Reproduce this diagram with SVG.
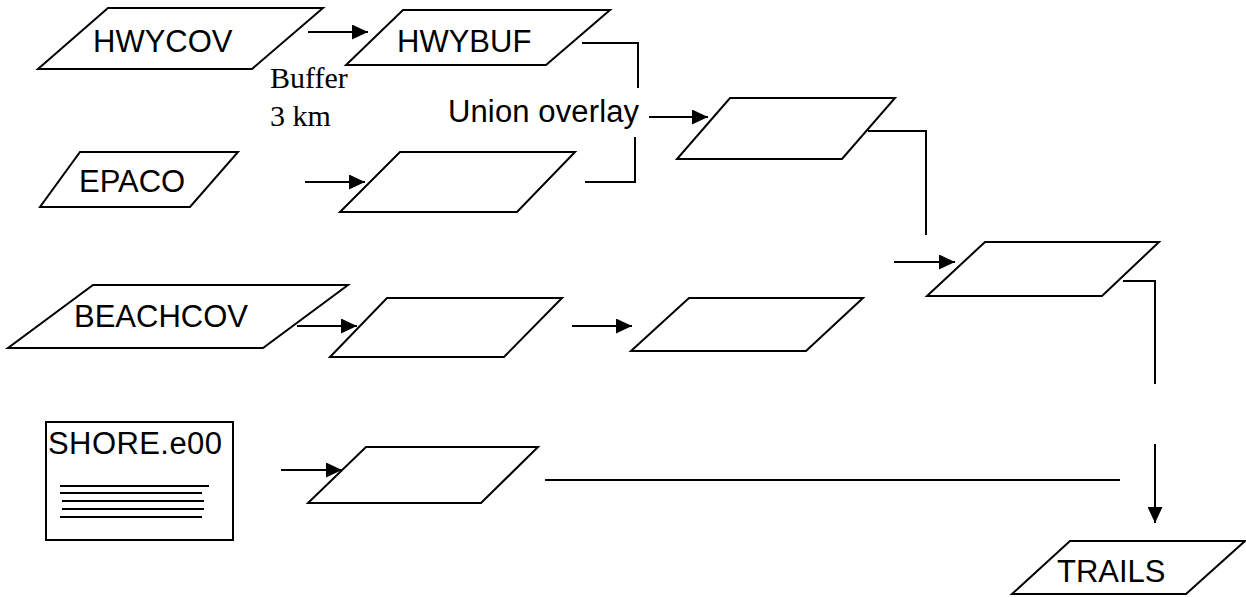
<svg xmlns="http://www.w3.org/2000/svg" width="1246" height="597" viewBox="0 0 1246 597">
<style>
.s{fill:#fff;stroke:#000;stroke-width:2}
.l{fill:none;stroke:#000;stroke-width:2}
.t{font-family:"Liberation Sans",Arial,sans-serif;font-size:31px;fill:#000}
.sf{font-family:"Liberation Serif","Times New Roman",serif;font-size:30px;fill:#000}
</style>
<defs>
<marker id="ah" markerWidth="17" markerHeight="15" refX="16" refY="7.5" orient="auto" markerUnits="userSpaceOnUse">
<path d="M0,0 L16,7.5 L0,15 Z" fill="#000"/>
</marker>
</defs>
<rect width="1246" height="597" fill="#fff"/>
<g id="hwycov"><polygon class="s" points="108,8 323,8 252,69 38,69"/><text class="t" x="93" y="52">HWYCOV</text></g>
<g id="hwybuf"><polygon class="s" points="403,10 610,10 546,65 346,65"/><text class="t" x="397" y="52">HWYBUF</text></g>
<g id="epaco"><polygon class="s" points="80,152 238,152 190,207 40,207"/><text class="t" x="79" y="192">EPACO</text></g>
<g id="epaco2"><polygon class="s" points="400,152 575,152 517,212 340,212"/></g>
<g id="union"><polygon class="s" points="730,98 895,98 842,159 677,159"/></g>
<g id="beachcov"><polygon class="s" points="93,285 348,285 263,348 8,348"/><text class="t" x="74" y="327">BEACHCOV</text></g>
<g id="beach2"><polygon class="s" points="387,298 562,298 504,357 330,357"/></g>
<g id="beach3"><polygon class="s" points="689,298 863,298 806,351 631,351"/></g>
<g id="merge"><polygon class="s" points="985,242 1159,242 1102,296 927,296"/></g>
<g id="shore"><rect class="s" x="46" y="422" width="187" height="118"/><text class="t" x="48" y="454" textLength="174">SHORE.e00</text>
<path class="l" d="M60,486H209M60,493H202M62,501H204M62,509H204M60,517H202"/></g>
<g id="shore2"><polygon class="s" points="366,447 538,447 481,503 308,503"/></g>
<g id="trails"><polygon class="s" points="1070,541 1245,541 1186,594 1012,594"/><text class="t" x="1057" y="582">TRAILS</text></g>
<g id="labels">
<text class="sf" x="270" y="88">Buffer</text>
<text class="sf" x="270" y="126">3 km</text>
<text class="t" x="448" y="122" textLength="191">Union overlay</text>
</g>
<g id="connectors">
<line class="l" x1="308" y1="32" x2="368" y2="32" marker-end="url(#ah)"/>
<line class="l" x1="305" y1="182" x2="365" y2="182" marker-end="url(#ah)"/>
<path class="l" d="M582,43H638V88"/>
<path class="l" d="M635,137V182H585"/>
<line class="l" x1="649" y1="117" x2="708" y2="117" marker-end="url(#ah)"/>
<path class="l" d="M868,131H926V235"/>
<line class="l" x1="894" y1="262" x2="955" y2="262" marker-end="url(#ah)"/>
<line class="l" x1="297" y1="326" x2="357" y2="326" marker-end="url(#ah)"/>
<line class="l" x1="572" y1="326" x2="632" y2="326" marker-end="url(#ah)"/>
<line class="l" x1="281" y1="470" x2="342" y2="470" marker-end="url(#ah)"/>
<path class="l" d="M1123,281H1155V384"/>
<line class="l" x1="1155" y1="444" x2="1155" y2="523" marker-end="url(#ah)"/>
<line class="l" x1="545" y1="480" x2="1120" y2="480"/>
</g>
</svg>
